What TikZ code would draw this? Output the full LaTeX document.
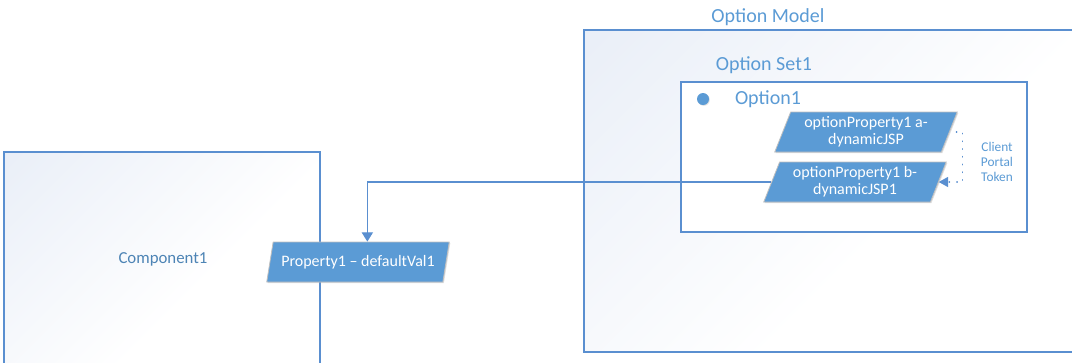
\documentclass[tikz,border=0pt]{standalone}
\usepackage{fontspec}
\setmainfont{Carlito}
\usetikzlibrary{positioning, shapes.geometric, shadows, arrows.meta}
\definecolor{vblue}{HTML}{5B9BD5}
\definecolor{vline}{HTML}{5A8FD0}
\definecolor{vshade}{HTML}{E2E9F5}
\definecolor{vgray}{HTML}{BFBFBF}
\pgfdeclareverticalshading{boxfade}{100bp}{color(0bp)=(white); color(42bp)=(white); color(100bp)=(vshade)}

\begin{document}
\begin{tikzpicture}[
  x=0.75pt, y=-0.75pt,
  every node/.style={font=\fontsize{12}{12.8}\selectfont},
  frame/.style={draw=vline, line width=0.8pt},
  shaded frame/.style={frame, shading=boxfade, shading angle=45},
  title/.style={text=vblue, font=\fontsize{15}{18}\selectfont, inner sep=0pt},
  prop/.style={trapezium, trapezium left angle=67, trapezium right angle=113,
    trapezium stretches=true, minimum width=137pt, minimum height=30pt,
    draw=vgray, line width=0.6pt, fill=vblue, text=white, align=center, inner sep=0pt,
    drop shadow={shadow xshift=0.8pt, shadow yshift=-0.8pt, fill=black!35, opacity=0.35}},
  arr/.style={draw=vline, line width=0.8pt, -{Triangle[length=7pt, width=8.5pt]}},
  tok/.style={draw=vline, line width=1pt, line cap=round, dash pattern=on 0.3pt off 5.5pt,
    -{Triangle[length=7pt, width=7.5pt]}}
]
\clip (0,0) rectangle (1072,362);
% containers
\draw[shaded frame] (4,152) rectangle (320,375);
\draw[shaded frame] (584,30) rectangle (1085,352);
\draw[frame, fill=white] (681,82) rectangle (1027,232);
\node[title] (model) at (768,17) {Option Model};
\node[title] (optset) at (764,65) {Option Set1};
\node[title] (opt) at (768,99) {Option1};
\node[circle, fill=vblue, minimum size=9pt, inner sep=0pt,
  drop shadow={shadow xshift=0.6pt, shadow yshift=-0.6pt, fill=black!35, opacity=0.35}] (dot) at (703,99) {};
\node[text=vblue!85!black, font=\fontsize{12.6}{15}\selectfont] (comp) at (163,259) {Component1};
% properties
\node[prop] (propa) at (866,132) {optionProperty1 a-\\dynamicJSP};
\node[prop] (propb) at (855,182) {optionProperty1 b-\\dynamicJSP1};
\node[prop] (defval) at (358,262) {Property1 -- defaultVal1};
\node[text=vblue, align=center, font=\fontsize{10}{11}\selectfont] (token) at (997,162) {Client\\Portal\\Token};
\draw[arr] (propb.west) -| ([xshift=7pt]defval.north);
\draw[tok] ([xshift=5pt]propa.east) -| ([xshift=18pt]propb.east) -- (propb.east);
\end{tikzpicture}
\end{document}
